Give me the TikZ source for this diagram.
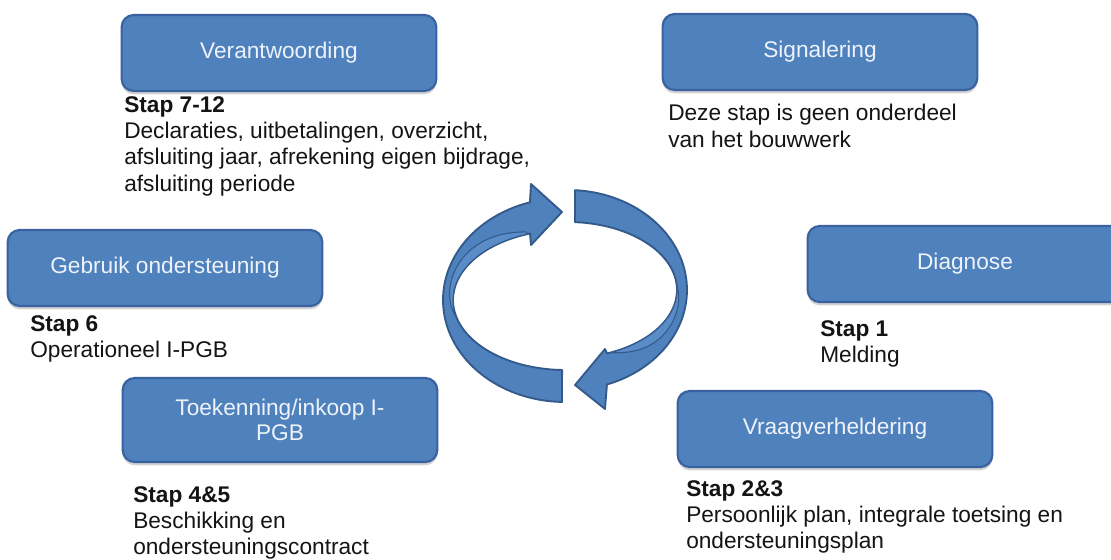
\documentclass[tikz,border=0pt]{standalone}
\usepackage{fontspec}
\setmainfont{Liberation Sans}
\usetikzlibrary{shadows}
\definecolor{boxblauw}{HTML}{4F81BD}
\definecolor{boxrand}{HTML}{3A62A0}
\definecolor{boxtekst}{HTML}{EEF3FA}
\definecolor{pijlrand}{HTML}{345A8C}
\definecolor{pijllicht}{HTML}{5A8CC8}
\definecolor{tekst}{HTML}{141414}
\tikzset{
  stapbox/.style={draw=boxrand, line width=1.6pt, fill=boxblauw, rounded corners=9pt,
    minimum width=236pt, minimum height=57pt, align=center, text=boxtekst,
    font=\fontsize{17}{19}\selectfont,
    drop shadow={shadow xshift=0pt, shadow yshift=-2.5pt, opacity=0.35}},
  staptekst/.style={anchor=north west, inner sep=0pt, align=left, text=tekst,
    font=\fontsize{17}{19.8}\selectfont},
  ring/.style={fill=boxblauw, draw=pijlrand, line width=1.4pt, line join=round},
  ringvlak/.style={fill=pijllicht, draw=pijlrand, line width=0.8pt, line join=round}
}
\begin{document}
\begin{tikzpicture}[x=0.75pt, y=-0.75pt]
            \clip (0,0) rectangle (1111,560);
            \fill[white] (0,0) rectangle (1111,560);

            \node[stapbox] (Ver) at (279,53) {Verantwoording};
            \node[stapbox] (Sig) at (820,52) {Signalering};
            \node[stapbox] (Geb) at (165,268) {Gebruik ondersteuning};
            \node[stapbox] (Dia) at (965,264) {Diagnose};
            \node[stapbox, minimum height=63pt] (Toe) at (280,420) {Toekenning/inkoop I-\\PGB};
            \node[stapbox] (Vra) at (835,429) {Vraagverheldering};

            \node[staptekst] (Vert) at (124,96) {\textbf{Stap 7-12}\\Declaraties, uitbetalingen, overzicht,\\afsluiting jaar, afrekening eigen bijdrage,\\afsluiting periode};
            \node[staptekst] (Sigt) at (668,104) {Deze stap is geen onderdeel\\van het bouwwerk};
            \node[staptekst] (Gebt) at (30,315) {\textbf{Stap 6}\\Operationeel I-PGB};
            \node[staptekst] (Diat) at (820,320) {\textbf{Stap 1}\\Melding};
            \node[staptekst] (Toet) at (133,486) {\textbf{Stap 4\&5}\\Beschikking en\\ondersteuningscontract};
            \node[staptekst] (Vrat) at (686,480) {\textbf{Stap 2\&3}\\Persoonlijk plan, integrale toetsing en\\ondersteuningsplan};

            \filldraw[ring] plot[domain=91.4:253.3, samples=60] ({565+122*cos(\x)},{300+102*sin(\x)})
              -- (531,184) -- (562,212) -- (531,245)
              -- plot[domain=251.8:91.5, samples=60] ({565+112*cos(\x)},{300+70*sin(\x)}) -- cycle;
            \filldraw[ringvlak] plot[domain=165:250, samples=40] ({565+(112+6*sin(2*(\x-165)))*cos(\x)},{300+(70+14*sin(2*(\x-165)))*sin(\x)})
              -- plot[domain=250:165, samples=40] ({565+112*cos(\x)},{300+70*sin(\x)}) -- cycle;
            \filldraw[ring] plot[domain=-86.6:70.9, samples=60] ({568+119*cos(\x)},{290+100*sin(\x)})
              -- (605,409) -- (575,385) -- (605,349)
              -- plot[domain=69:-86.3, samples=60] ({568+109*cos(\x)},{290+68*sin(\x)}) -- cycle;
            \filldraw[ringvlak] plot[domain=-5:66, samples=40] ({568+(109+5*sin(2.5*(\x+5)))*cos(\x)},{290+(68+14*sin(2.5*(\x+5)))*sin(\x)})
              -- plot[domain=66:-5, samples=40] ({568+109*cos(\x)},{290+68*sin(\x)}) -- cycle;
\end{tikzpicture}
\end{document}
